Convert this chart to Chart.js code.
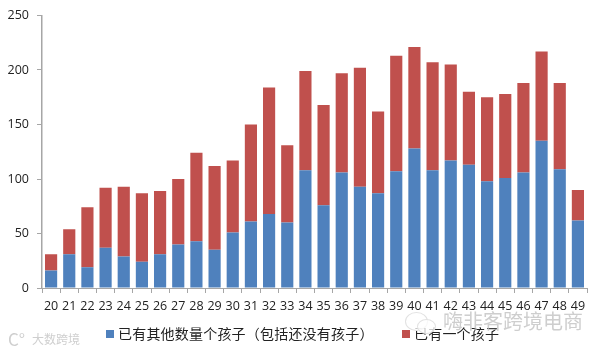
<!DOCTYPE html>
<html>
<head>
<meta charset="utf-8">
<script src="https://cdn.jsdelivr.net/npm/chart.js@4"></script>
<style>
html, body { margin: 0; padding: 0; background: #fff; }
#wrap { position: relative; width: 600px; height: 352px; overflow: hidden; }
canvas { display: block; }
.mark { position: absolute; color: #cfcfcf; font-family: "Noto Sans CJK SC", sans-serif; white-space: nowrap; }
.bubble { position: absolute; border: 1px solid #e2e2e2; border-radius: 50%; background: rgba(255,255,255,0.75); }
.key { position: absolute; top: 323px; height: 20px; color: #222; font: 14px/20px "Noto Sans CJK SC", sans-serif; letter-spacing: 0.2px; white-space: nowrap; }
.key i { position: absolute; left: -12px; top: 7px; width: 8px; height: 8px; }
</style>
</head>
<body>
<div id="wrap">
    <canvas id="kidsChart" width="600" height="352"></canvas>
    <div class="key" id="key0" style="left:118px;"></div>
    <div class="key" id="key1" style="left:414px;"></div>
    <div class="mark" style="left:8px;top:329px;font-size:17px;line-height:20px;">C°</div>
    <div class="mark" style="left:32px;top:332px;font-size:12px;line-height:14px;">大数跨境</div>
    <div class="bubble" style="left:405px;top:312px;width:21px;height:17px;"></div>
    <div class="bubble" style="left:417px;top:319px;width:17px;height:13px;"></div>
    <div class="mark" style="left:443px;top:311px;font-size:20px;line-height:20px;color:rgba(190,190,190,0.75);">嗨非客跨境电商</div>
</div>
<script>
const ages = ['20','21','22','23','24','25','26','27','28','29','30','31','32','33','34','35','36','37','38','39','40','41','42','43','44','45','46','47','48','49'];
const otherKids = [16,31,19,37,29,24,31,40,43,35,51,61,68,60,108,76,106,93,87,107,128,108,117,113,98,101,106,135,109,62];
const oneKid = [15,23,55,55,64,63,58,60,81,77,66,89,116,71,91,92,91,109,75,106,93,99,88,67,77,77,82,82,79,28];
const seriesNames = ['已有其他数量个孩子（包括还没有孩子）', '已有一个孩子'];
const seriesColors = ['#4f81bd', '#c0504d'];

const ctx = document.getElementById('kidsChart').getContext('2d');

const myChart = new Chart(ctx, {
    type: 'bar',
    data: {
        labels: ages,
        datasets: [
            { label: seriesNames[0], data: otherKids, backgroundColor: seriesColors[0] },
            { label: seriesNames[1], data: oneKid, backgroundColor: seriesColors[1] }
        ]
    },
    options: {
        responsive: false,
        animation: false,
        layout: { padding: { left: 0, right: 13, top: 11, bottom: 34 } },
        datasets: { bar: { categoryPercentage: 0.67, barPercentage: 1 } },
        plugins: {
            tooltip: { enabled: false },
            legend: { display: false }
        },
        scales: {
            x: {
                stacked: true,
                afterFit: function (scale) { scale.height = 30; },
                grid: { display: true, drawOnChartArea: false, color: '#a6a6a6', tickLength: 5 },
                border: { color: '#a6a6a6' },
                ticks: { color: '#222', maxRotation: 0, autoSkip: false, padding: 6, font: { family: 'Open Sans', size: 12.5 } }
            },
            y: {
                stacked: true,
                min: 0,
                max: 250,
                afterFit: function (scale) { scale.width = 42; },
                grid: { display: true, drawOnChartArea: false, color: '#a6a6a6', tickLength: 5 },
                border: { color: '#a6a6a6', width: 1.5 },
                ticks: { stepSize: 50, color: '#222', padding: 8, font: { family: 'Open Sans', size: 12.5 } }
            }
        }
    }
});

// legend is plain html so the box and text gaps can follow the picture
seriesNames.forEach(function (name, i) {
    const key = document.getElementById('key' + i);
    key.textContent = name;
    const box = document.createElement('i');
    box.style.background = seriesColors[i];
    key.appendChild(box);
});
</script>
</body>
</html>
